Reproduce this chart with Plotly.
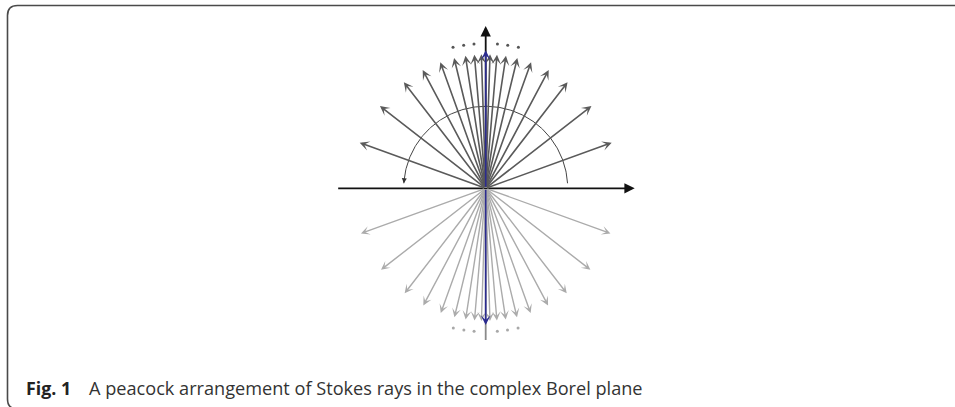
import numpy as np
import plotly.graph_objects as go

# ---- data ----
# Stokes ray directions, degrees measured from the positive real axis (right half, upper plane)
ray_angles_right = [19.9, 37.9, 52.35, 61.95, 70.2, 76.35, 81.3, 85.15, 88.15]
ray_len_upper = 1.0
ray_len_lower = 0.99
# dots ("...") near the imaginary axis, degrees from the imaginary axis
dot_offsets = [4.65, 8.75, 13.05]
dot_radius_upper = 1.08
dot_radius_lower = 1.07
blue_len_up = 1.03
blue_len_down = 1.02
axis_x_half = 1.112
axis_y_up = 1.211
axis_y_down = 1.132
arc_radius = 0.612
arc_start, arc_end = 3.5, 176.5

caption_label = "Fig. 1"
caption_text = "A peacock arrangement of Stokes rays in the complex Borel plane"

# ---- layout geometry ----
W, H = 955, 407
S = 134.0          # pixels per unit
CX, CY = 485.7, 188.3

fig = go.Figure()

ann = []

def arrow(x0, y0, x1, y1, color, width, head=3, size=1.0, showhead=True):
    ann.append(dict(x=x1, y=y1, ax=x0, ay=y0, xref="x", yref="y", axref="x", ayref="y",
                    text="", showarrow=True, arrowhead=head if showhead else 0,
                    arrowsize=size, arrowwidth=width, arrowcolor=color, standoff=0,
                    startstandoff=0))

# axes
arrow(-axis_x_half, 0, axis_x_half, 0, "#111111", 1.8, head=2, size=1.15)
arrow(0, 0, 0, axis_y_up, "#111111", 1.8, head=2, size=1.15)
arrow(0, 0, 0, -axis_y_down, "#8a8a8a", 1.8, showhead=False)

# lower rays (light)
for a in ray_angles_right:
    for sgn in (1, -1):
        t = np.deg2rad(a)
        arrow(0, 0, sgn * ray_len_lower * np.cos(t), -ray_len_lower * np.sin(t),
              "#ababab", 1.4, head=3, size=1.05)

# upper rays (dark)
for a in ray_angles_right:
    for sgn in (1, -1):
        t = np.deg2rad(a)
        arrow(0, 0, sgn * ray_len_upper * np.cos(t), ray_len_upper * np.sin(t),
              "#5a5a5a", 1.6, head=3, size=1.0)

# blue rays on the imaginary axis
arrow(0, 0, 0, blue_len_up, "#2b2b8f", 1.6, head=3, size=1.0)
arrow(0, 0, 0, -blue_len_down, "#2b2b8f", 1.6, head=3, size=1.0)

# arc with arrowhead at its left end
th = np.deg2rad(np.linspace(arc_start, arc_end, 200))
fig.add_trace(go.Scatter(x=arc_radius * np.cos(th), y=arc_radius * np.sin(th),
                         mode="lines", line=dict(color="#444444", width=1),
                         hoverinfo="skip", showlegend=False))
t0, t1 = np.deg2rad(arc_end - 4), np.deg2rad(arc_end)
arrow(arc_radius * np.cos(t0), arc_radius * np.sin(t0),
      arc_radius * np.cos(t1), arc_radius * np.sin(t1), "#333333", 1.0, head=2, size=1.0)

# dots
du = [90 + d for d in dot_offsets] + [90 - d for d in dot_offsets]
fig.add_trace(go.Scatter(x=[dot_radius_upper * np.cos(np.deg2rad(a)) for a in du],
                         y=[dot_radius_upper * np.sin(np.deg2rad(a)) for a in du],
                         mode="markers", marker=dict(size=3, color="#555555"),
                         hoverinfo="skip", showlegend=False))
fig.add_trace(go.Scatter(x=[dot_radius_lower * np.cos(np.deg2rad(a)) for a in du],
                         y=[-dot_radius_lower * np.sin(np.deg2rad(a)) for a in du],
                         mode="markers", marker=dict(size=3, color="#a8a8a8"),
                         hoverinfo="skip", showlegend=False))

# caption
ann.append(dict(x=24 / W, y=1 - 387.5 / H, xref="paper", yref="paper", xanchor="left",
                yanchor="middle", showarrow=False, text="<b>" + caption_label + "</b>",
                font=dict(family="Open Sans", size=17.8, color="#222222")))
ann.append(dict(x=87 / W, y=1 - 387.5 / H, xref="paper", yref="paper", xanchor="left",
                yanchor="middle", showarrow=False, text=caption_text,
                font=dict(family="Open Sans", size=18.15, color="#333333")))

# frame (rounded, top-left visible)
def px(x):
    return x / W
def py(y):
    return 1 - y / H
r = 10
x0, y0, x1, y1 = 7.5, 5.5, 975, 409
path = (f"M{px(x0 + r)},{py(y0)} L{px(x1)},{py(y0)} "
        f"M{px(x0 + r)},{py(y0)} Q{px(x0)},{py(y0)} {px(x0)},{py(y0 + r)} "
        f"L{px(x0)},{py(y1 - r)} Q{px(x0)},{py(y1)} {px(x0 + r)},{py(y1)} L{px(x1)},{py(y1)}")
shapes = [dict(type="path", xref="paper", yref="paper", path=path,
               line=dict(color="#4a4a4a", width=1.6))]

fig.update_layout(
    width=W, height=H, autosize=False,
    margin=dict(l=0, r=0, t=0, b=0),
    paper_bgcolor="white", plot_bgcolor="white",
    xaxis=dict(range=[-CX / S, (W - CX) / S], visible=False, fixedrange=True),
    yaxis=dict(range=[(CY - H) / S, CY / S], visible=False, fixedrange=True),
    annotations=ann, shapes=shapes, showlegend=False,
)

fig.write_html("out.html", config={"displayModeBar": False},
               post_script="document.body.style.margin='0';document.body.style.overflow='hidden';")
